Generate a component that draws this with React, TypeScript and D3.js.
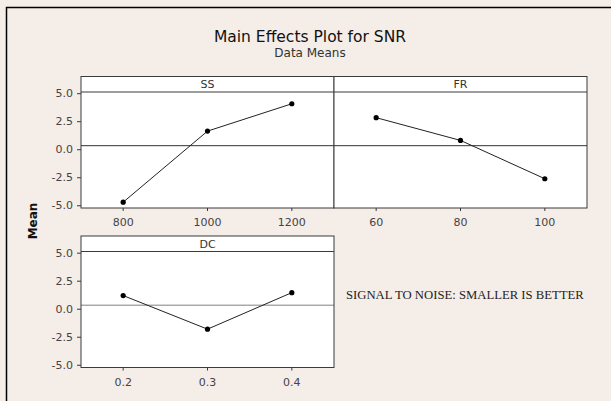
import React from "react";
import * as d3 from "d3";

const ssLevels = ["800", "1000", "1200"];
const ssMeans = [-4.68, 1.66, 4.1];
const frLevels = ["60", "80", "100"];
const frMeans = [2.86, 0.83, -2.59];
const dcLevels = ["0.2", "0.3", "0.4"];
const dcMeans = [1.22, -1.78, 1.48];
const yTicks = [-5, -2.5, 0, 2.5, 5];
const grandMean = 0.36;
const title = "Main Effects Plot for SNR";
const subtitle = "Data Means";
const yLabel = "Mean";
const note = "SIGNAL TO NOISE: SMALLER IS BETTER";

const W = 611;
const H = 401;
const BG = "rgb(245,237,232)";
const tickFont = "'DejaVu Sans', Verdana, sans-serif";
const fmt = d3.formatLocale({ decimal: ".", thousands: ",", grouping: [3], currency: ["", ""], minus: "-" }).format(".1f");

type PanelProps = {
  x0: number;
  x1: number;
  top: number;
  stripH: number;
  bottom: number;
  label: string;
  levels: string[];
  means: number[];
  showY: boolean;
  refColor: string;
};

function Panel({ x0, x1, top, stripH, bottom, label, levels, means, showY, refColor }: PanelProps) {
  const plotTop = top + stripH;
  const x = d3.scalePoint<string>().domain(levels).range([x0, x1]).padding(0.5);
  const y = d3.scaleLinear().domain([-5.2, 5.15]).range([bottom, plotTop]);
  const line = d3
    .line<number>()
    .x((_, i) => x(levels[i]) as number)
    .y((d) => y(d));
  return (
    <g>
      <rect x={x0} y={top} width={x1 - x0} height={bottom - top} fill="#fff" />
      <line x1={x0} x2={x1} y1={y(grandMean)} y2={y(grandMean)} stroke={refColor} strokeWidth={1} />
      <path d={line(means) || ""} fill="none" stroke="#222" strokeWidth={1} />
      {means.map((m, i) => (
        <circle key={i} cx={x(levels[i])} cy={y(m)} r={2.6} fill="#000" />
      ))}
      <rect x={x0} y={top} width={x1 - x0} height={bottom - top} fill="none" stroke="#3a3a3a" strokeWidth={1} />
      <line x1={x0} x2={x1} y1={plotTop} y2={plotTop} stroke="#3a3a3a" strokeWidth={1} />
      <text
        x={(x0 + x1) / 2}
        y={top + stripH / 2 + 0.5}
        textAnchor="middle"
        dominantBaseline="central"
        fontFamily={tickFont}
        fontSize={11}
        fill="#333"
      >
        {label}
      </text>
      {levels.map((lv) => (
        <g key={lv}>
          <line x1={x(lv)} x2={x(lv)} y1={bottom} y2={bottom + 3} stroke="#3a3a3a" />
          <text
            x={x(lv)}
            y={bottom + 14.5}
            textAnchor="middle"
            dominantBaseline="central"
            fontFamily={tickFont}
            fontSize={11}
            fill="#444"
          >
            {lv}
          </text>
        </g>
      ))}
      {showY &&
        yTicks.map((t) => (
          <g key={t}>
            <line x1={x0 - 4} x2={x0} y1={y(t)} y2={y(t)} stroke="#3a3a3a" />
            <text
              x={x0 - 8}
              y={y(t)}
              textAnchor="end"
              dominantBaseline="central"
              fontFamily={tickFont}
              fontSize={11}
              fill="#444"
            >
              {fmt(t)}
            </text>
          </g>
        ))}
    </g>
  );
}

export default function App() {
  return (
    <svg
      width={W}
      height={H}
      style={{ position: "absolute", left: 0, top: 0, display: "block" }}
    >
      <rect x={0} y={0} width={W} height={H} fill={BG} />
      <line x1={6.5} x2={6.5} y1={7} y2={H} stroke="#000" strokeWidth={1.5} />
      <line x1={6} x2={W} y1={7.5} y2={7.5} stroke="#000" strokeWidth={1.5} />
      <text x={310} y={41.5} textAnchor="middle" fontFamily={tickFont} fontSize={15.5} fill="#111">
        {title}
      </text>
      <text x={310} y={56.5} textAnchor="middle" fontFamily={tickFont} fontSize={12} fill="#333">
        {subtitle}
      </text>
      <text
        transform="translate(33,221) rotate(-90)"
        textAnchor="middle"
        dominantBaseline="central"
        fontFamily={tickFont}
        fontWeight="bold"
        fontSize={12}
        fill="#111"
      >
        {yLabel}
      </text>
      <Panel x0={81} x1={334} top={76.5} stripH={15.5} bottom={208} label="SS" levels={ssLevels} means={ssMeans} showY={true} refColor="#333" />
      <Panel x0={334} x1={587} top={76.5} stripH={15.5} bottom={208} label="FR" levels={frLevels} means={frMeans} showY={false} refColor="#333" />
      <Panel x0={81} x1={334} top={236} stripH={15.5} bottom={367.5} label="DC" levels={dcLevels} means={dcMeans} showY={true} refColor="#808080" />
      <text x={346} y={299} fontFamily="'Liberation Serif', 'Times New Roman', serif" fontSize={12.7} fill="#222">
        {note}
      </text>
    </svg>
  );
}
